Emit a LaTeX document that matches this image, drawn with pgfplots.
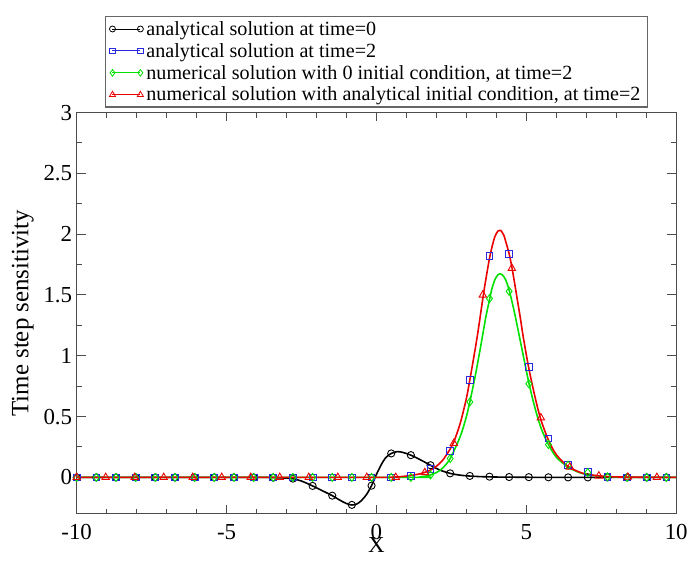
\documentclass[border=0pt]{standalone}
\usepackage{fontspec}
\setmainfont{Liberation Serif}
\usepackage{pgfplots}
\pgfplotsset{compat=1.18}
\definecolor{myblue}{RGB}{40,40,220}
\definecolor{mygreen}{RGB}{0,225,0}
\definecolor{myred}{RGB}{235,0,0}
\begin{document}
\begin{tikzpicture}
\begin{axis}[
  name=ax,
  scale only axis,
  width=602pt, height=403pt,
  xmin=-10, xmax=10, ymin=-0.3, ymax=3,
  xtick={-10,-5,0,5,10}, minor x tick num=4,
  ytick={0,0.5,1,1.5,2,2.5,3}, minor y tick num=1,
  tick align=inside,
  major tick length=9pt, minor tick length=5pt,
  axis line style={draw=black!70, line width=1.2pt},
  every tick/.style={draw=black!70, line width=1pt},
  /pgf/number format/assume math mode=true,
  ticklabel style={font=\fontsize{23}{23}\selectfont},
  xticklabel style={inner ysep=0pt, yshift=-10pt},
  yticklabel style={xshift=-1pt},
  xlabel={X}, ylabel={Time step sensitivity},
  xlabel style={inner ysep=0pt, yshift=2pt, font=\fontsize{23}{23}\selectfont},
  ylabel style={yshift=3pt, font=\fontsize{25}{25}\selectfont},
  legend cell align=left,
  legend style={at={(0.5,1)}, anchor=south, yshift=5pt,
    font=\fontsize{20.2}{22}\selectfont, draw=black!60, line width=1.2pt,
    inner xsep=4pt, inner ysep=3pt,
    nodes={inner xsep=3pt, inner ysep=1.5pt}, row sep=3.5pt},
  legend image code/.code={\draw[#1] plot coordinates {(0pt,0pt) (28pt,0pt)};},
]
% legend entries
\addlegendimage{black, line width=0.8pt, mark=o, mark size=3pt, mark options={line width=0.8pt}}
\addlegendentry{analytical solution at time=0}
\addlegendimage{myblue, line width=0.8pt, mark=square, mark size=2.8pt, mark options={line width=0.8pt}}
\addlegendentry{analytical solution at time=2}
\addlegendimage{mygreen, line width=0.8pt, mark=diamond, mark size=3.3pt, mark options={line width=0.8pt}}
\addlegendentry{numerical solution with 0 initial condition, at time=2}
\addlegendimage{myred, line width=0.8pt, mark=triangle, mark size=3.5pt, mark options={line width=0.8pt}}
\addlegendentry{numerical solution with analytical initial condition, at time=2}

% black line (analytical, time=0)
\addplot[black, line width=1.6pt, smooth, forget plot] coordinates {
(-10,0) (-4,0) (-3.443,-0.002) (-3,-0.006) (-2.787,-0.011) (-2.5,-0.03) (-2.131,-0.07)
(-1.8,-0.11) (-1.475,-0.15) (-1.2,-0.19) (-1.0,-0.215) (-0.82,-0.227) (-0.65,-0.218)
(-0.5,-0.19) (-0.33,-0.14) (-0.164,-0.068) (0,0.025) (0.15,0.10) (0.3,0.16) (0.492,0.197)
(0.7,0.212) (0.9,0.204) (1.147,0.183) (1.4,0.153) (1.6,0.127) (1.803,0.10) (2.1,0.062)
(2.459,0.033) (2.8,0.018) (3.114,0.011) (3.5,0.006) (4,0.003) (5,0.001) (6,0) (10,0)};
\addplot[black, only marks, mark=o, mark size=3.6pt, mark options={line width=0.9pt}, forget plot] coordinates {
(-10,0) (-9.344,0) (-8.689,0) (-8.033,0) (-7.377,0) (-6.721,0) (-6.066,0) (-5.410,0)
(-4.754,0) (-4.098,0) (-3.443,-0.002) (-2.787,-0.01) (-2.131,-0.07) (-1.475,-0.15)
(-0.820,-0.226) (-0.164,-0.068) (0.492,0.197) (1.147,0.183) (1.803,0.10) (2.459,0.033)
(3.114,0.012) (3.770,0.006) (4.426,0.003) (5.082,0.002) (5.737,0.001) (6.393,0)
(7.049,0) (7.705,0) (8.361,0) (9.016,0) (9.672,0)};

% blue squares (analytical, time=2)
\addplot[myblue, only marks, mark=square, mark size=3.4pt, mark options={line width=0.9pt}, forget plot] coordinates {
(-10,0) (-9.344,0) (-8.689,0) (-8.033,0) (-7.377,0) (-6.721,0) (-6.066,0) (-5.410,0)
(-4.754,0) (-4.098,0) (-3.443,0) (-2.787,0) (-2.131,0) (-1.475,0)
(-0.820,0) (-0.164,0) (0.492,0) (1.147,0.01) (1.803,0.07) (2.459,0.22)
(3.114,0.80) (3.770,1.82) (4.426,1.84) (5.082,0.91) (5.737,0.32) (6.393,0.10)
(7.049,0.045) (7.705,0.005) (8.361,0) (9.016,0) (9.672,0)};

% green (numerical, 0 initial condition)
\addplot[mygreen, line width=1.6pt, smooth, forget plot] coordinates {
(-10,0) (1.0,0) (1.5,0.005) (1.8,0.02) (2.0,0.04) (2.2,0.075) (2.459,0.155) (2.8,0.34)
(3.0,0.50) (3.114,0.62) (3.3,0.84) (3.5,1.11) (3.65,1.32) (3.77,1.46) (3.85,1.55)
(3.95,1.625) (4.05,1.665) (4.12,1.675) (4.2,1.665) (4.3,1.63) (4.426,1.54) (4.6,1.36)
(4.8,1.12) (5.082,0.78) (5.3,0.56) (5.5,0.40) (5.737,0.27) (6.0,0.166) (6.393,0.085)
(6.8,0.037) (7.2,0.017) (7.7,0.006) (8.5,0.001) (10,0)};
\addplot[mygreen, only marks, mark=diamond, mark size=4pt, mark options={line width=0.9pt}, forget plot] coordinates {
(-10,0) (-9.344,0) (-8.689,0) (-8.033,0) (-7.377,0) (-6.721,0) (-6.066,0) (-5.410,0)
(-4.754,0) (-4.098,0) (-3.443,0) (-2.787,0) (-2.131,0) (-1.475,0)
(-0.820,0) (-0.164,0) (0.492,0) (1.147,0) (1.803,0.02) (2.459,0.155)
(3.114,0.62) (3.770,1.47) (4.426,1.53) (5.082,0.77) (5.737,0.27) (6.393,0.10)
(7.049,0.04) (7.705,0.005) (8.361,0) (9.016,0) (9.672,0)};

% red (numerical, analytical initial condition)
\addplot[myred, line width=1.6pt, smooth, forget plot] coordinates {
(-10,0) (0,0) (0.5,0.002) (1.0,0.011) (1.5,0.032) (1.8,0.06) (2.0,0.092) (2.2,0.138)
(2.458,0.233) (2.58,0.29) (2.8,0.45) (3.0,0.65) (3.114,0.80) (3.3,1.065) (3.4,1.22)
(3.548,1.47) (3.65,1.63) (3.77,1.80) (3.85,1.89) (3.95,1.98) (4.05,2.025) (4.1,2.03)
(4.15,2.03) (4.25,1.99) (4.3,1.95) (4.425,1.84) (4.516,1.73) (4.6,1.61) (4.7,1.46)
(4.8,1.31) (4.9,1.15) (5.08,0.90) (5.3,0.65) (5.484,0.475) (5.74,0.305) (6.0,0.187)
(6.39,0.09) (6.8,0.041) (7.05,0.025) (7.5,0.0104) (8.0,0.004) (9,0.001) (10,0)};
\addplot[myred, only marks, mark=triangle, mark size=4.3pt, mark options={line width=0.9pt}, forget plot] coordinates {
(-10,0) (-9.032,0) (-8.065,0) (-7.097,0) (-6.129,0) (-5.161,0) (-4.194,0) (-3.226,0)
(-2.258,0) (-1.290,0) (-0.323,0) (0.645,0) (1.613,0.04) (2.581,0.28) (3.548,1.50)
(4.516,1.72) (5.484,0.49) (6.452,0.085) (7.419,0.012) (8.387,0.002) (9.355,0)};
\end{axis}
\path ([shift={(-77pt,-47pt)}]ax.south west) rectangle ([shift={(12pt,113pt)}]ax.north east);
\end{tikzpicture}
\end{document}
